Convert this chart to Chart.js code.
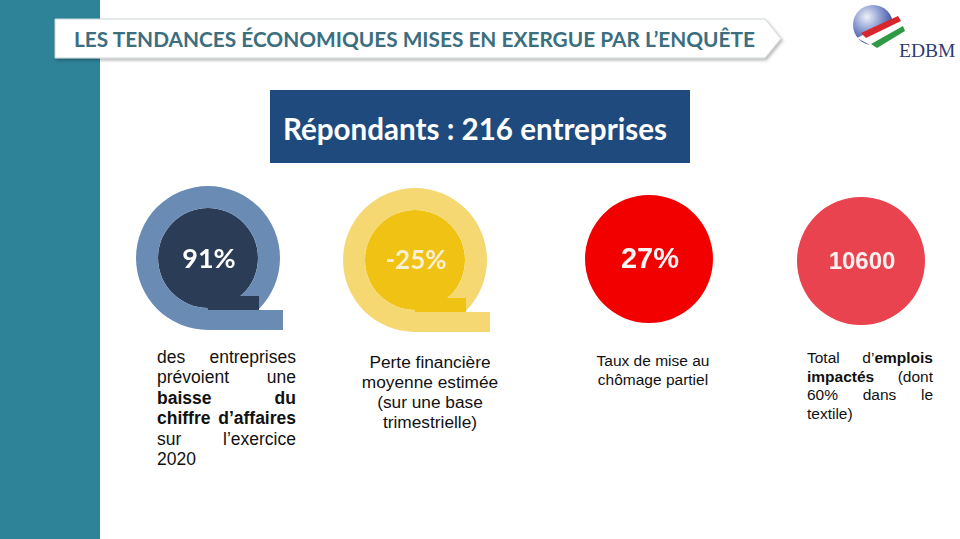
<!DOCTYPE html>
<html>
<head>
<meta charset="utf-8">
<script src="https://cdn.jsdelivr.net/npm/chart.js@4/dist/chart.umd.min.js"></script>
<style>
  html, body { margin: 0; padding: 0; background: #fff; }
  #page { position: relative; width: 960px; height: 539px; overflow: hidden; }
  #deco { position: absolute; left: 0; top: 0; }
  .kpi { position: absolute; }
  .txt { position: absolute; font-family: "Liberation Sans", Arial, sans-serif; color: #111; }
  .just div { text-align: justify; text-align-last: justify; }
  .just div.last { text-align-last: left; }
  .center { text-align: center; }
</style>
</head>
<body>
<div id="page">
  <svg id="deco" width="960" height="539">
    <defs>
      <filter id="sh" x="-5%" y="-40%" width="110%" height="200%">
        <feDropShadow dx="1.5" dy="2" stdDeviation="1.5" flood-color="#000" flood-opacity="0.28"/>
      </filter>
      <radialGradient id="globe" cx="0.35" cy="0.3" r="0.8">
        <stop offset="0" stop-color="#eef1f8"/>
        <stop offset="0.45" stop-color="#8798cf"/>
        <stop offset="1" stop-color="#1d2d86"/>
      </radialGradient>
    </defs>
    <rect x="0" y="0" width="100" height="539" fill="#2e8398"/>
    <polygon points="55,19 765,19 781,38.5 765,58 55,58" fill="#fff" stroke="#cdd5d8" stroke-width="1" filter="url(#sh)"/>
    <text x="74" y="47" font-family="Lato, 'Open Sans', sans-serif" font-weight="700" font-size="20" fill="#3b6e7e"
          textLength="681" lengthAdjust="spacingAndGlyphs">LES TENDANCES ÉCONOMIQUES MISES EN EXERGUE PAR L’ENQUÊTE</text>
    <rect x="270" y="90" width="420" height="73" fill="#1f4a7e"/>
    <text x="283" y="140" font-family="Lato, 'Open Sans', sans-serif" font-weight="700" font-size="31" fill="#fff"
          textLength="384" lengthAdjust="spacingAndGlyphs">Répondants : 216 entreprises</text>
    <!-- logo -->
    <circle cx="873" cy="25" r="20" fill="url(#globe)"/>
    <polygon points="857,38 899,17 906,31 879,50" fill="#fff"/>
    <polygon points="861,33 898,16 901,21 866,38" fill="#d8262c"/>
    <polygon points="871,44 903,26 905,31 877,48" fill="#2f9a46"/>
    <text x="899" y="57" font-family="'Liberation Serif', serif" font-size="19.5" fill="#2d3b73">EDBM</text>
  </svg>

  <div class="kpi" id="k0" style="left:128px;top:178px;width:160px;height:160px"><canvas id="c0"></canvas></div>
  <div class="kpi" id="k1" style="left:335px;top:180px;width:160px;height:160px"><canvas id="c1"></canvas></div>
  <div class="kpi" id="k2" style="left:577px;top:187px;width:144px;height:144px"><canvas id="c2"></canvas></div>
  <div class="kpi" id="k3" style="left:789px;top:189px;width:144px;height:144px"><canvas id="c3"></canvas></div>

  <div class="txt just" style="left:157px;top:347px;width:139px;font-size:17.5px;line-height:20.4px">
    <div>des entreprises</div>
    <div>prévoient une</div>
    <div><b>baisse du</b></div>
    <div><b>chiffre d’affaires</b></div>
    <div>sur l’exercice</div>
    <div class="last">2020</div>
  </div>
  <div class="txt center" style="left:340px;top:352px;width:180px;font-size:17.3px;line-height:20px">
    Perte financière<br>moyenne estimée<br>(sur une base<br>trimestrielle)
  </div>
  <div class="txt center" style="left:563px;top:352px;width:180px;font-size:15.5px;line-height:18.5px">
    Taux de mise au<br>chômage partiel
  </div>
  <div class="txt just" style="left:807px;top:349px;width:126px;font-size:15.5px;line-height:18.5px">
    <div>Total d’<b>emplois</b></div>
    <div><b>impactés</b> (dont</div>
    <div>60% dans le</div>
    <div class="last">textile)</div>
  </div>
</div>

<script>
// KPI data
const kpiCategories = ['Baisse du chiffre d’affaires', 'Perte financière moyenne', 'Chômage partiel', 'Emplois impactés'];
const kpiValues = [91, -25, 27, 10600];
const kpiSuffix = ['%', '%', '%', ''];
const ringColors = ['#6a8bb4', '#f6d873', null, null];
const coreColors = ['#2b3c56', '#f0c214', '#f20000', '#e8434e'];
const labelColors = ['#ffffff', '#f8f0d4', '#fbf4f4', '#fbf0f0'];
const labelFonts = ['700 27px Lato', '700 26px Lato', '700 29px "Liberation Sans"', '700 24px "Liberation Sans"'];

// draws the Q tail on the ring charts and the value in the middle
const kpiDecor = {
  id: 'kpiDecor',
  afterDatasetsDraw(chart) {
    const ctx = chart.ctx;
    const i = chart.options.plugins.kpiDecor.index;
    const metas = chart.getSortedVisibleDatasetMetas();
    const core = metas[metas.length - 1].data[0];
    const cx = core.x, cy = core.y, r = core.outerRadius;
    ctx.save();
    if (metas.length > 1) {
      const R = metas[0].data[0].outerRadius;
      const bar = cy + r * 1.04;
      // squared corner of the core, then the tail bar of the ring
      ctx.fillStyle = coreColors[i];
      ctx.fillRect(cx, cy + r * 0.76, r * 1.02, bar - (cy + r * 0.76));
      ctx.fillStyle = ringColors[i];
      ctx.fillRect(cx, bar, R + 3, cy + R - bar);
    }
    ctx.fillStyle = labelColors[i];
    ctx.font = labelFonts[i];
    ctx.textAlign = 'center';
    ctx.textBaseline = 'middle';
    ctx.fillText(kpiValues[i] + kpiSuffix[i], cx + 1, cy + 1);
    ctx.restore();
  }
};

kpiValues.forEach((v, i) => {
  const datasets = [];
  if (ringColors[i]) {
    datasets.push({ data: [1], backgroundColor: ringColors[i], borderWidth: 0, weight: 22 });
  }
  datasets.push({ data: [1], backgroundColor: coreColors[i], borderWidth: 0, weight: 50 });

  new Chart(document.getElementById('c' + i), {
    type: 'doughnut',
    data: { labels: [kpiCategories[i]], datasets: datasets },
    options: {
      responsive: true,
      maintainAspectRatio: false,
      animation: false,
      cutout: 0,
      events: [],
      layout: { padding: 8 },
      plugins: {
        legend: { display: false },
        tooltip: { enabled: false },
        kpiDecor: { index: i }
      }
    },
    plugins: [kpiDecor]
  });
});
</script>
</body>
</html>
